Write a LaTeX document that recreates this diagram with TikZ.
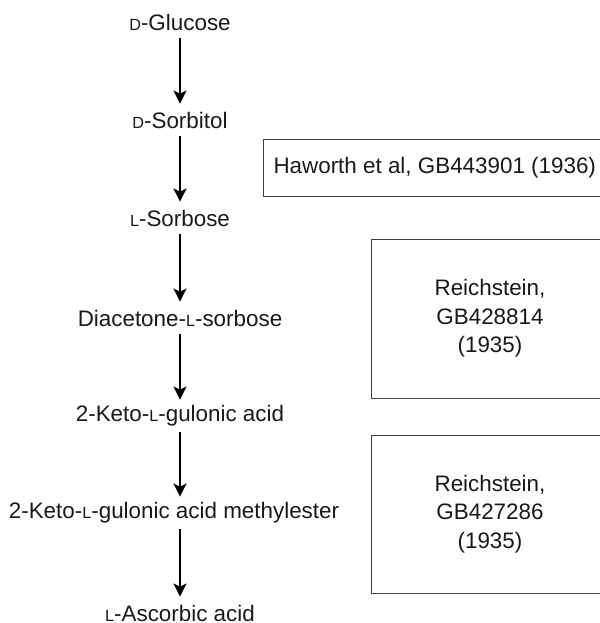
\documentclass[tikz,border=0pt]{standalone}
\usepackage{fontspec}
\setmainfont{Liberation Sans}
\usetikzlibrary{arrows.meta}
\newcommand{\smcap}[1]{{\fontsize{8.1pt}{8.1pt}\selectfont #1}}
\tikzstyle{cmpd} = [inner sep=0pt, minimum height=16pt, text=black!90, font={\fontsize{11.2pt}{14.25pt}\selectfont}]
\tikzstyle{ref} = [draw=black!75, line width=0.5pt, align=center, inner sep=0pt, text=black!90, font={\fontsize{11.2pt}{14.25pt}\selectfont}]
\tikzstyle{conv} = [-{Stealth[length=6.5pt,width=6.5pt,inset=1.5pt]}, line width=1pt]

\begin{document}
\begin{tikzpicture}[x=0.5pt,y=-0.5pt]
  \useasboundingbox (0,0) rectangle (600,623);
  \node[cmpd](glc) at (180,22){\smcap{D}-Glucose};
  \node[cmpd](sor) at (180,120){\smcap{D}-Sorbitol};
  \node[cmpd](srb) at (180,218){\smcap{L}-Sorbose};
  \node[cmpd](dias) at (180,318){Diacetone-\smcap{L}-sorbose};
  \node[cmpd](kga) at (180,416){2-Keto-\smcap{L}-gulonic acid};
  \node[cmpd](kgam) at (180,513){\hspace{-6pt}2-Keto-\smcap{L}-gulonic acid methylester};
  \node[cmpd](asc) at (180,613){\smcap{L}-Ascorbic acid};
  \node[ref,anchor=west,inner xsep=5pt,minimum height=28.5pt](hw) at (263,167.5){Haworth et al, GB443901 (1936)\hspace{4pt}};
  \node[ref,minimum width=119pt,minimum height=79.5pt](rs1) at (490,318.5){Reichstein,\\GB428814\\(1935)};
  \node[ref,minimum width=119pt,minimum height=79pt](rs2) at (490,514){Reichstein,\\GB427286\\(1935)};
  \draw[conv](glc)--(sor);
  \draw[conv](sor)--(srb);
  \draw[conv](srb)--(dias);
  \draw[conv](dias)--(kga);
  \draw[conv](kga)--(kgam);
  \draw[conv](kgam)--(asc);
\end{tikzpicture}
\end{document}
